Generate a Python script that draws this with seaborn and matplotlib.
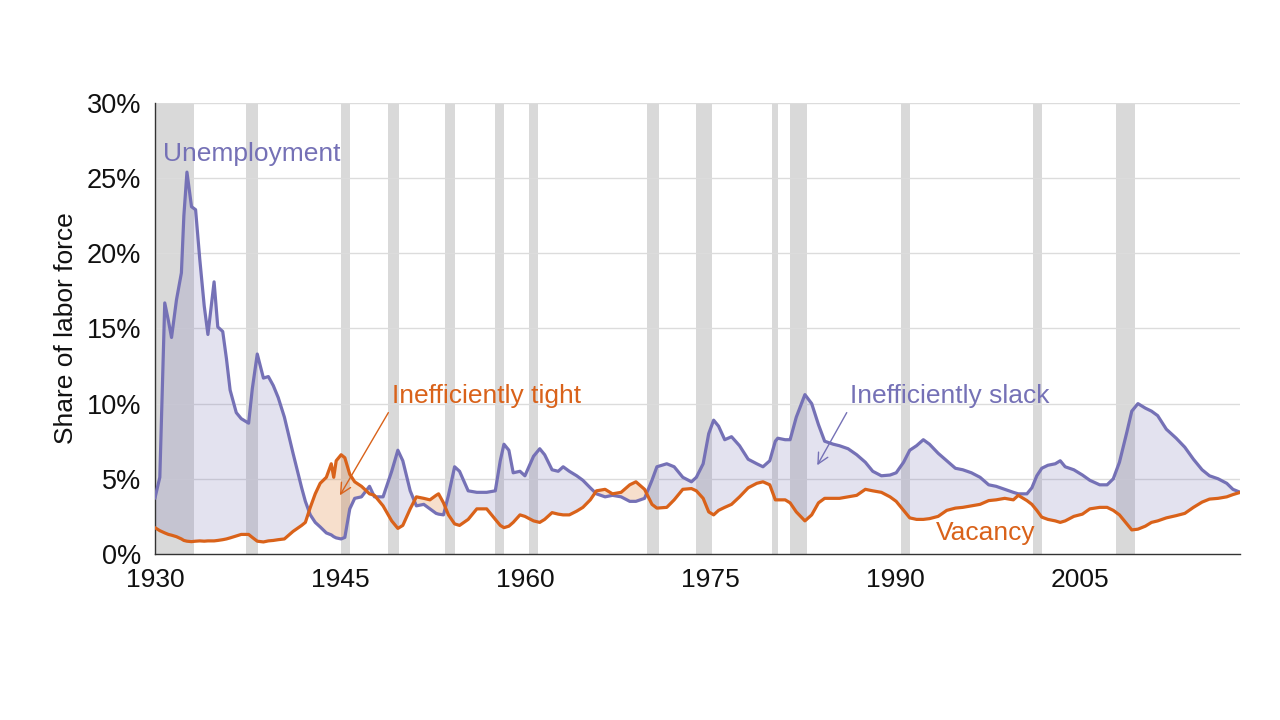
import numpy as np
import pandas as pd
import matplotlib
matplotlib.use("Agg")
import matplotlib.pyplot as plt
import seaborn as sns

# ---- data ----
years = [1930.0, 1930.4, 1930.8, 1931.1, 1931.35, 1931.75, 1932.15, 1932.35, 1932.6, 1932.97,
         1933.3, 1933.64, 1934.0, 1934.3, 1934.8, 1935.1, 1935.5, 1935.8, 1936.1, 1936.6,
         1937.0, 1937.6, 1937.9, 1938.3, 1938.8, 1939.2, 1939.6, 1940.0, 1940.5, 1941.2,
         1941.9, 1942.2, 1942.6, 1943.0, 1943.4, 1943.9, 1944.3, 1944.5, 1944.7, 1945.1,
         1945.4, 1945.8, 1946.2, 1946.75, 1947.4, 1947.8, 1948.5, 1949.2, 1949.7, 1950.1,
         1950.7, 1951.2, 1951.8, 1952.3, 1952.8, 1953.0, 1953.4, 1953.8, 1954.3, 1954.7,
         1955.4, 1956.1, 1956.9, 1957.6, 1958.0, 1958.3, 1958.7, 1959.05, 1959.6, 1960.0,
         1960.7, 1961.2, 1961.6, 1962.2, 1962.7, 1963.1, 1963.6, 1964.2, 1964.7, 1965.3,
         1965.8, 1966.5, 1967.1, 1967.8, 1968.5, 1969.0, 1969.7, 1970.3, 1970.7, 1971.5,
         1972.1, 1972.8, 1973.5, 1973.9, 1974.45, 1974.9, 1975.3, 1975.7, 1976.2, 1976.75,
         1977.4, 1978.1, 1978.8, 1979.3, 1979.85, 1980.3, 1980.5, 1981.1, 1981.5, 1982.0,
         1982.7, 1983.25, 1983.8, 1984.3, 1985.0, 1985.5, 1986.2, 1986.9, 1987.6, 1988.2,
         1988.9, 1989.6, 1990.1, 1990.7, 1991.2, 1991.75, 1992.3, 1992.8, 1993.5, 1994.2,
         1994.9, 1995.5, 1996.2, 1996.9, 1997.6, 1998.2, 1998.9, 1999.6, 2000.0, 2000.7,
         2001.1, 2001.5, 2001.9, 2002.4, 2003.0, 2003.4, 2003.8, 2004.5, 2005.2, 2005.8,
         2006.6, 2007.2, 2007.7, 2008.2, 2008.8, 2009.2, 2009.7, 2010.3, 2010.8, 2011.3,
         2012.0, 2012.8, 2013.5, 2014.2, 2014.9, 2015.5, 2016.2, 2016.9, 2017.4, 2018.0]

unemployment = [3.7, 5.1, 16.7, 15.5, 14.4, 16.9, 18.7, 22.5, 25.4, 23.1,
                22.9, 19.6, 16.5, 14.6, 18.1, 15.1, 14.8, 13.0, 10.9, 9.4,
                9.0, 8.7, 11.0, 13.3, 11.7, 11.8, 11.2, 10.4, 9.1, 6.7,
                4.4, 3.5, 2.6, 2.1, 1.8, 1.4, 1.27, 1.15, 1.07, 1.0,
                1.1, 3.0, 3.7, 3.8, 4.5, 3.8, 3.8, 5.5, 6.9, 6.2,
                4.2, 3.2, 3.3, 3.0, 2.7, 2.65, 2.6, 3.9, 5.8, 5.5,
                4.2, 4.1, 4.1, 4.2, 6.2, 7.3, 6.9, 5.4, 5.5, 5.2,
                6.5, 7.0, 6.6, 5.6, 5.5, 5.8, 5.5, 5.2, 4.9, 4.4,
                4.0, 3.8, 3.9, 3.8, 3.5, 3.5, 3.7, 4.9, 5.8, 6.0,
                5.8, 5.1, 4.8, 5.1, 6.0, 8.0, 8.9, 8.5, 7.6, 7.8,
                7.2, 6.3, 6.0, 5.8, 6.2, 7.5, 7.7, 7.6, 7.6, 9.1,
                10.6, 10.0, 8.6, 7.5, 7.3, 7.2, 7.0, 6.6, 6.1, 5.5,
                5.2, 5.25, 5.4, 6.1, 6.9, 7.2, 7.6, 7.3, 6.7, 6.2,
                5.7, 5.6, 5.4, 5.1, 4.6, 4.5, 4.3, 4.1, 4.0, 4.0,
                4.4, 5.2, 5.7, 5.9, 6.0, 6.2, 5.8, 5.6, 5.25, 4.9,
                4.6, 4.6, 5.0, 6.1, 8.1, 9.5, 10.0, 9.7, 9.5, 9.2,
                8.3, 7.7, 7.1, 6.3, 5.6, 5.2, 5.0, 4.7, 4.3, 4.1]

vacancy = [1.75, 1.55, 1.4, 1.3, 1.25, 1.15, 1.0, 0.9, 0.85, 0.82,
           0.85, 0.87, 0.85, 0.87, 0.87, 0.9, 0.95, 1.0, 1.07, 1.2,
           1.3, 1.3, 1.1, 0.85, 0.8, 0.87, 0.9, 0.95, 1.0, 1.5,
           1.9, 2.1, 3.1, 4.0, 4.7, 5.1, 6.0, 5.1, 6.2, 6.6,
           6.4, 5.3, 4.8, 4.5, 4.0, 3.9, 3.2, 2.2, 1.7, 1.9,
           3.0, 3.8, 3.7, 3.6, 3.9, 4.0, 3.4, 2.6, 2.0, 1.9,
           2.3, 3.0, 3.0, 2.3, 1.9, 1.75, 1.85, 2.1, 2.6, 2.5,
           2.2, 2.1, 2.3, 2.75, 2.65, 2.6, 2.6, 2.85, 3.1, 3.6,
           4.2, 4.3, 4.0, 4.1, 4.6, 4.8, 4.3, 3.3, 3.05, 3.1,
           3.6, 4.3, 4.35, 4.2, 3.7, 2.8, 2.6, 2.9, 3.1, 3.3,
           3.8, 4.4, 4.7, 4.8, 4.6, 3.6, 3.6, 3.6, 3.4, 2.8,
           2.2, 2.6, 3.4, 3.7, 3.7, 3.7, 3.8, 3.9, 4.3, 4.2,
           4.1, 3.8, 3.5, 2.9, 2.4, 2.3, 2.3, 2.35, 2.5, 2.9,
           3.05, 3.1, 3.2, 3.3, 3.55, 3.6, 3.7, 3.6, 3.9, 3.55,
           3.3, 2.9, 2.45, 2.3, 2.2, 2.1, 2.2, 2.5, 2.65, 3.0,
           3.1, 3.1, 2.9, 2.6, 2.0, 1.6, 1.65, 1.85, 2.1, 2.2,
           2.4, 2.55, 2.7, 3.1, 3.45, 3.65, 3.7, 3.8, 3.95, 4.1]

recession_starts = [1929.7, 1937.4, 1945.1, 1948.9, 1953.5, 1957.6, 1960.3, 1969.9,
                    1973.9, 1980.0, 1981.5, 1990.5, 2001.2, 2007.9]
recession_ends = [1933.2, 1938.4, 1945.8, 1949.8, 1954.3, 1958.3, 1961.1, 1970.9,
                  1975.2, 1980.5, 1982.9, 1991.2, 2001.9, 2009.5]

x_ticks = [1930, 1945, 1960, 1975, 1990, 2005]
y_ticks = [0, 5, 10, 15, 20, 25, 30]
y_tick_labels = ["0%", "5%", "10%", "15%", "20%", "25%", "30%"]

df = pd.DataFrame({"year": years, "Unemployment": unemployment, "Vacancy": vacancy})

# ---- style ----
PURPLE = "#7571b6"
ORANGE = "#d9621a"
sns.set_style("white")
plt.rcParams["font.family"] = ["Liberation Sans", "DejaVu Sans"]
FS = 19
TXT = "#111111"

fig = plt.figure(figsize=(12.8, 7.2), dpi=100)
ax = fig.add_axes([0.121, 0.2306, 0.848, 0.6264])

for s, e in zip(recession_starts, recession_ends):
    ax.axvspan(s, e, color="#d9d9d9", lw=0, zorder=0)

for yv in y_ticks[1:]:
    ax.axhline(yv, color="#dcdcdc", lw=1.0, zorder=0.5)

u = df["Unemployment"].to_numpy()
v = df["Vacancy"].to_numpy()
x = df["year"].to_numpy()
ax.fill_between(x, u, v, where=u >= v, interpolate=True, color="#7570b3", alpha=0.2, lw=0, zorder=1)
ax.fill_between(x, u, v, where=u <= v, interpolate=True, color="#d95f02", alpha=0.2, lw=0, zorder=1)

sns.lineplot(data=df, x="year", y="Unemployment", ax=ax, color=PURPLE, lw=2.3, zorder=3)
sns.lineplot(data=df, x="year", y="Vacancy", ax=ax, color=ORANGE, lw=2.3, zorder=3)

ax.set_xlim(1930, 2018)
ax.set_ylim(0, 30)
ax.set_xticks(x_ticks)
ax.set_xticklabels([str(t) for t in x_ticks], fontsize=FS, color=TXT)
ax.set_yticks(y_ticks)
ax.set_yticklabels(y_tick_labels, fontsize=FS + 0.5, color=TXT)
ax.set_xlabel("")
ax.set_ylabel("Share of labor force", fontsize=FS, labelpad=6, color=TXT)
ax.tick_params(axis="both", direction="out", length=6, width=1, color="#333333", pad=4)
for side in ["top", "right"]:
    ax.spines[side].set_visible(False)
for side in ["left", "bottom"]:
    ax.spines[side].set_color("#333333")
    ax.spines[side].set_linewidth(1.0)

ax.text(1930.65, 26.6, "Unemployment", color=PURPLE, fontsize=FS, va="center", ha="left")
ax.text(1993.3, 1.4, "Vacancy", color=ORANGE, fontsize=FS, va="center", ha="left")
ax.annotate("Inefficiently tight", xy=(1945.0, 3.9), xytext=(1949.2, 10.5),
            color=ORANGE, fontsize=FS, va="center", ha="left",
            arrowprops=dict(arrowstyle="->", color=ORANGE, lw=1.0,
                            shrinkA=1, shrinkB=0, relpos=(0.0, 0.05)))
ax.annotate("Inefficiently slack", xy=(1983.7, 5.9), xytext=(1986.35, 10.5),
            color=PURPLE, fontsize=FS, va="center", ha="left",
            arrowprops=dict(arrowstyle="->", color=PURPLE, lw=1.0,
                            shrinkA=1, shrinkB=0, relpos=(0.0, 0.05)))

fig.savefig("out.png", dpi=100)
